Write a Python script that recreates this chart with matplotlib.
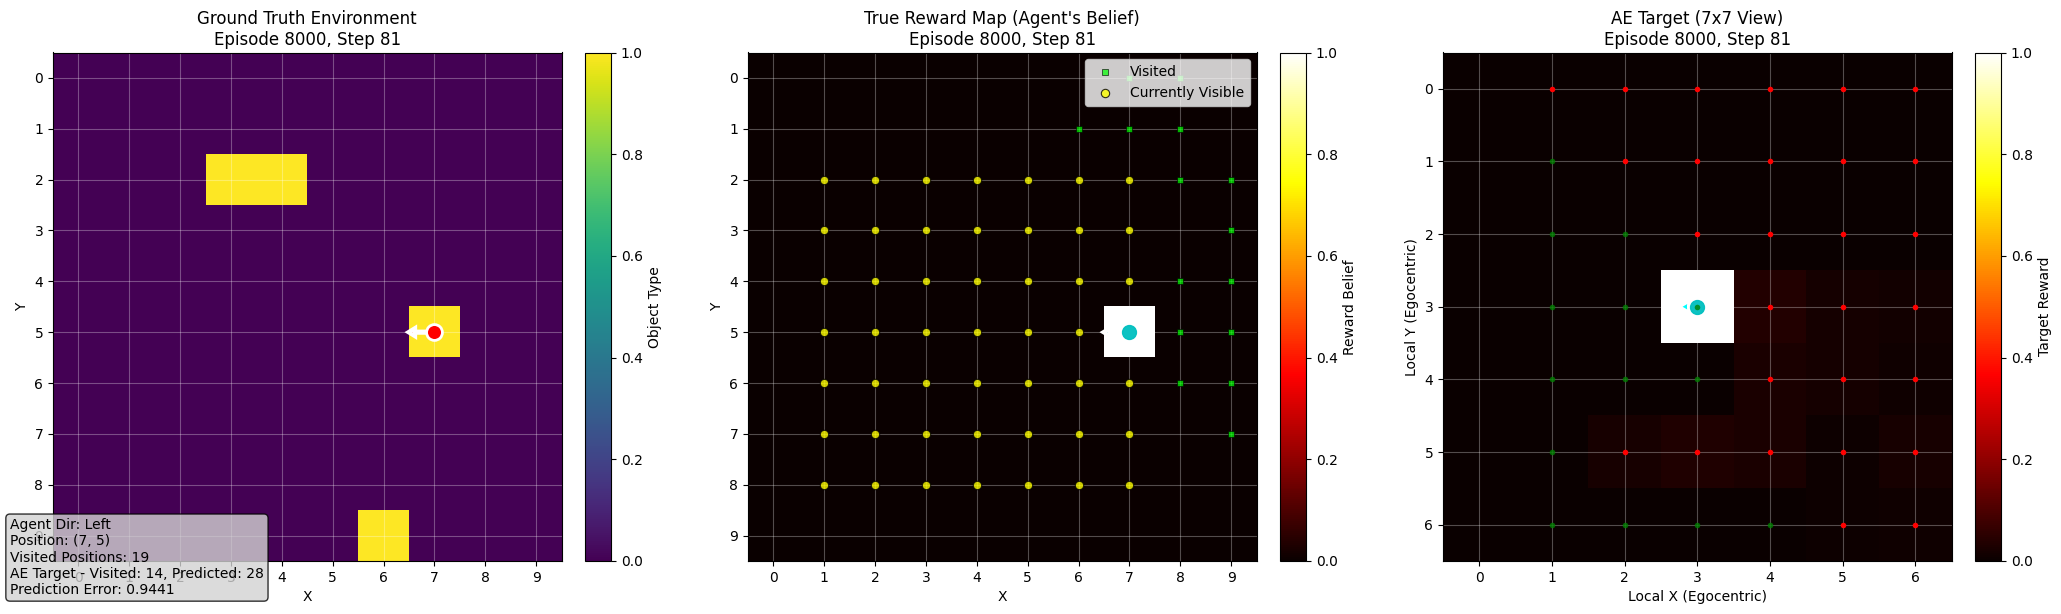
import numpy as np
import matplotlib
matplotlib.use('Agg')
from matplotlib import pyplot as plt

W, H = 2061, 614

# cells holding an object (x, y)
object_cells = [(3, 2), (4, 2), (7, 5), (6, 9)]
visited_x = [7, 8, 6, 7, 8, 8, 9, 9, 8, 9, 8, 9, 8, 9, 9]
visited_y = [0, 0, 1, 1, 1, 2, 2, 3, 4, 4, 5, 5, 6, 6, 7]
visible_x = [1, 2, 3, 4, 5, 6, 7] * 4 + [1, 2, 3, 4, 5, 6] + [1, 2, 3, 4, 5, 6, 7] * 2
visible_y = [2] * 7 + [3] * 7 + [4] * 7 + [8] * 7 + [5] * 6 + [6] * 7 + [7] * 7
agent_pos = (7, 5)
agent_local = (3, 3)

target = [
    [0.000, 0.000, 0.000, 0.000, 0.000, 0.000, 0.000],
    [0.000, 0.000, 0.000, 0.000, 0.000, 0.000, 0.000],
    [0.000, 0.000, 0.000, 0.000, 0.000, 0.000, 0.000],
    [0.000, 0.000, 0.000, 1.000, 0.036, 0.018, 0.012],
    [0.000, 0.000, 0.000, 0.000, 0.024, 0.016, 0.010],
    [0.000, 0.000, 0.022, 0.032, 0.026, 0.004, 0.020],
    [0.000, 0.000, 0.000, 0.000, 0.000, 0.006, 0.008],
]
local_green_x = [1, 1, 2, 1, 2, 3, 1, 2, 3, 1, 1, 2, 3, 4]
local_green_y = [1, 2, 2, 3, 3, 3, 4, 4, 4, 5, 6, 6, 6, 6]
local_red_x = [1, 2, 3, 4, 5, 6, 2, 3, 4, 5, 6, 3, 4, 5, 6, 4, 5, 6, 4, 5, 6, 2, 3, 4, 5, 6, 5, 6]
local_red_y = [0] * 6 + [1] * 5 + [2] * 4 + [3] * 3 + [4] * 3 + [5] * 5 + [6] * 2

info_text = ('Agent Dir: Left\nPosition: (7, 5)\nVisited Positions: 19\n'
             'AE Target - Visited: 14, Predicted: 28\nPrediction Error: 0.9441')


def place(x0, x1, y0, y1):
    return fig.add_axes([x0 / W, 1 - y1 / H, (x1 - x0) / W, (y1 - y0) / H])


def panel(x0, grid, cmap, title, xlabel, ylabel, cbar_label):
    ax = place(x0, x0 + 508.5, 52.5, 561)
    cax = place(x0 + 532, x0 + 558, 52.5, 561)
    im = ax.imshow(grid, cmap=cmap, vmin=0, vmax=1, aspect='auto', interpolation='nearest')
    n = len(grid)
    ax.set_xticks(range(n))
    ax.set_yticks(range(n))
    ax.grid(True, color='white', alpha=0.3)
    ax.set_title(title, fontsize=12, pad=5.5)
    ax.set_xlabel(xlabel)
    ax.set_ylabel(ylabel)
    cb = fig.colorbar(im, cax=cax)
    cb.set_label(cbar_label)
    return ax


fig = plt.figure(figsize=(W / 100, H / 100), dpi=100)

# Ground truth
env = np.zeros((10, 10))
for cx, cy in object_cells:
    env[cy, cx] = 1
ax1 = panel(53, env, 'viridis', 'Ground Truth Environment\nEpisode 8000, Step 81', 'X', 'Y', 'Object Type')
ax1.arrow(agent_pos[0], agent_pos[1], -0.38, 0, head_width=0.16, head_length=0.13, width=0.02,
          fc='red', ec='white', linewidth=3, zorder=4)
ax1.scatter(*agent_pos, c='red', s=130, edgecolors='white', linewidths=2, zorder=5)

# Belief map
belief = np.zeros((10, 10))
belief[agent_pos[1], agent_pos[0]] = 1
ax2 = panel(748, belief, 'hot', "True Reward Map (Agent's Belief)\nEpisode 8000, Step 81", 'X', 'Y', 'Reward Belief')
ax2.scatter(visited_x, visited_y, c='lime', s=22, marker='s', alpha=0.7, edgecolors='black',
            linewidths=0.6, label='Visited', zorder=3)
ax2.scatter(visible_x, visible_y, c='yellow', s=36, marker='o', alpha=0.8, edgecolors='black',
            linewidths=0.8, label='Currently Visible', zorder=3)
ax2.arrow(agent_pos[0], agent_pos[1], -0.38, 0, head_width=0.16, head_length=0.13, width=0.02,
          fc='c', ec='white', linewidth=3, zorder=4)
ax2.scatter(*agent_pos, c='c', s=100, zorder=5, alpha=0.95)
ax2.legend(loc='upper right')

# Local view
ax3 = panel(1443, target, 'hot', 'AE Target (7x7 View)\nEpisode 8000, Step 81',
            'Local X (Egocentric)', 'Local Y (Egocentric)', 'Target Reward')
ax3.arrow(agent_local[0], agent_local[1], -0.12, 0, head_width=0.14, head_length=0.12,
          fc='cyan', ec='white', linewidth=2, zorder=4)
ax3.scatter(*agent_local, c='c', s=100, zorder=4, alpha=0.95)
ax3.scatter(local_green_x, local_green_y, c='green', s=16, alpha=0.8, linewidths=0, zorder=5)
ax3.scatter(local_red_x, local_red_y, c='red', s=16, marker='o', linewidths=0, zorder=5)

fig.text(10 / W, 1 - 597 / H, info_text, fontsize=10, va='bottom', ha='left',
         bbox=dict(boxstyle='round', facecolor='lightgray', alpha=0.8))

fig.savefig('out.png', dpi=100)
